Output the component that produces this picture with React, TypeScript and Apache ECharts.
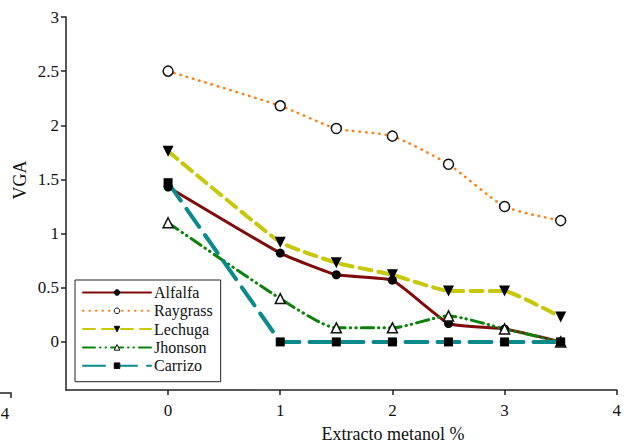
import React, { useEffect, useRef } from "react";
import * as echarts from "echarts";

const xValues = [0, 1, 1.5, 2, 2.5, 3, 3.5];
const alfalfa = [1.43, 0.82, 0.62, 0.57, 0.17, 0.12, 0];
const raygrass = [2.5, 2.18, 1.97, 1.9, 1.64, 1.25, 1.12];
const lechuga = [1.76, 0.92, 0.73, 0.62, 0.47, 0.47, 0.23];
const jhonson = [1.1, 0.4, 0.13, 0.13, 0.24, 0.12, 0];
const carrizo = [1.47, 0, 0, 0, 0, 0, 0];
const xTicks = [0, 1, 2, 3, 4];
const yTicks = [0, 0.5, 1, 1.5, 2, 2.5, 3];
const seriesNames = ["Alfalfa", "Raygrass", "Lechuga", "Jhonson", "Carrizo"];

const FONT = "Liberation Serif";

function pairs(ys: number[]) {
  return xValues.map((x, i) => [x, ys[i]]);
}

export default function App() {
  const ref = useRef<HTMLDivElement>(null);
  useEffect(() => {
    if (!ref.current) return;
    const chart = echarts.init(ref.current, null, { renderer: "svg" });
    const mk = (
      name: string,
      ys: number[],
      color: string,
      width: number,
      dash: any,
      symbol: string,
      size: number,
      fill: string,
      smooth: number
    ) => ({
      name,
      type: "line",
      data: pairs(ys),
      smooth,
      symbol,
      symbolSize: size,
      lineStyle: { color, width, type: dash, cap: "round" },
      itemStyle: { color: fill, borderColor: "#111", borderWidth: fill === "#fff" ? 1.5 : 0 },
      z: 3,
    });
    chart.setOption({
      animation: false,
      backgroundColor: "#fff",
      textStyle: { fontFamily: FONT },
      grid: { left: 66, right: 7, top: 17, bottom: 53, containLabel: false },
      xAxis: {
        type: "value",
        min: -0.91,
        max: 4,
        axisLine: { show: true, onZero: false, lineStyle: { color: "#222", width: 1.5 } },
        axisTick: { show: true, customValues: xTicks, length: 5, lineStyle: { color: "#222", width: 1.5 } },
        axisLabel: {
          customValues: xTicks,
          margin: 12,
          color: "#111",
          fontFamily: FONT,
          fontSize: 17,
          formatter: (v: number) => String(v),
        },
        splitLine: { show: false },
      },
      yAxis: {
        type: "value",
        min: -0.444,
        max: 3,
        axisLine: { show: true, onZero: false, lineStyle: { color: "#222", width: 1.5 } },
        axisTick: { show: true, customValues: yTicks, length: 5, lineStyle: { color: "#222", width: 1.5 } },
        axisLabel: {
          customValues: yTicks,
          margin: 7,
          color: "#111",
          fontFamily: FONT,
          fontSize: 17,
          formatter: (v: number) => String(v),
        },
        splitLine: { show: false },
      },
      legend: {
        data: seriesNames,
        orient: "vertical",
        left: 75,
        top: 280,
        padding: [4.5, 8, 8, 7],
        itemGap: 2.3,
        itemWidth: 68,
        itemHeight: 7,
        itemStyle: { borderWidth: 1 },
        borderColor: "#222",
        borderWidth: 1,
        backgroundColor: "#fff",
        textStyle: { fontFamily: FONT, fontSize: 16, lineHeight: 16, color: "#111", padding: [0, 0, 0, -2] },
      },
      graphic: [
        {
          type: "text",
          x: 20,
          y: 180,
          rotation: Math.PI / 2,
          style: { text: "VGA", fontFamily: FONT, fontSize: 18, fill: "#111", textAlign: "center", textVerticalAlign: "middle" },
        },
        {
          type: "text",
          x: 393,
          y: 434,
          style: { text: "Extracto metanol %", fontFamily: FONT, fontSize: 18, fill: "#111", textAlign: "center", textVerticalAlign: "middle" },
        },
        {
          type: "polyline",
          shape: { points: [[0, 393], [11, 393], [11, 398]] },
          style: { stroke: "#222", lineWidth: 1.5, fill: null },
        },
        {
          type: "text",
          x: 5,
          y: 413,
          style: { text: "4", fontFamily: FONT, fontSize: 17, fill: "#111", textAlign: "center", textVerticalAlign: "middle" },
        },
      ],
      series: [
        mk("Alfalfa", alfalfa, "#7f0a0a", 3, "solid", "circle", 9, "#000", 0.12),
        mk("Raygrass", raygrass, "#ff7f0e", 2.5, [0.5, 6], "circle", 10, "#fff", 0.2),
        { ...mk("Lechuga", lechuga, "#c8c80a", 4, [12, 7], "triangle", 11, "#000", 0.12), symbolRotate: 180 },
        mk("Jhonson", jhonson, "#0a820a", 3, [12, 5, 0.5, 5, 0.5, 5], "triangle", 10, "#fff", 0.2),
        mk("Carrizo", carrizo, "#0a8a8a", 4, [22, 10], "rect", 9, "#000", 0),
      ],
    });
    return () => chart.dispose();
  }, []);
  return <div ref={ref} style={{ width: 624, height: 443, position: "absolute", left: 0, top: 0 }} />;
}
